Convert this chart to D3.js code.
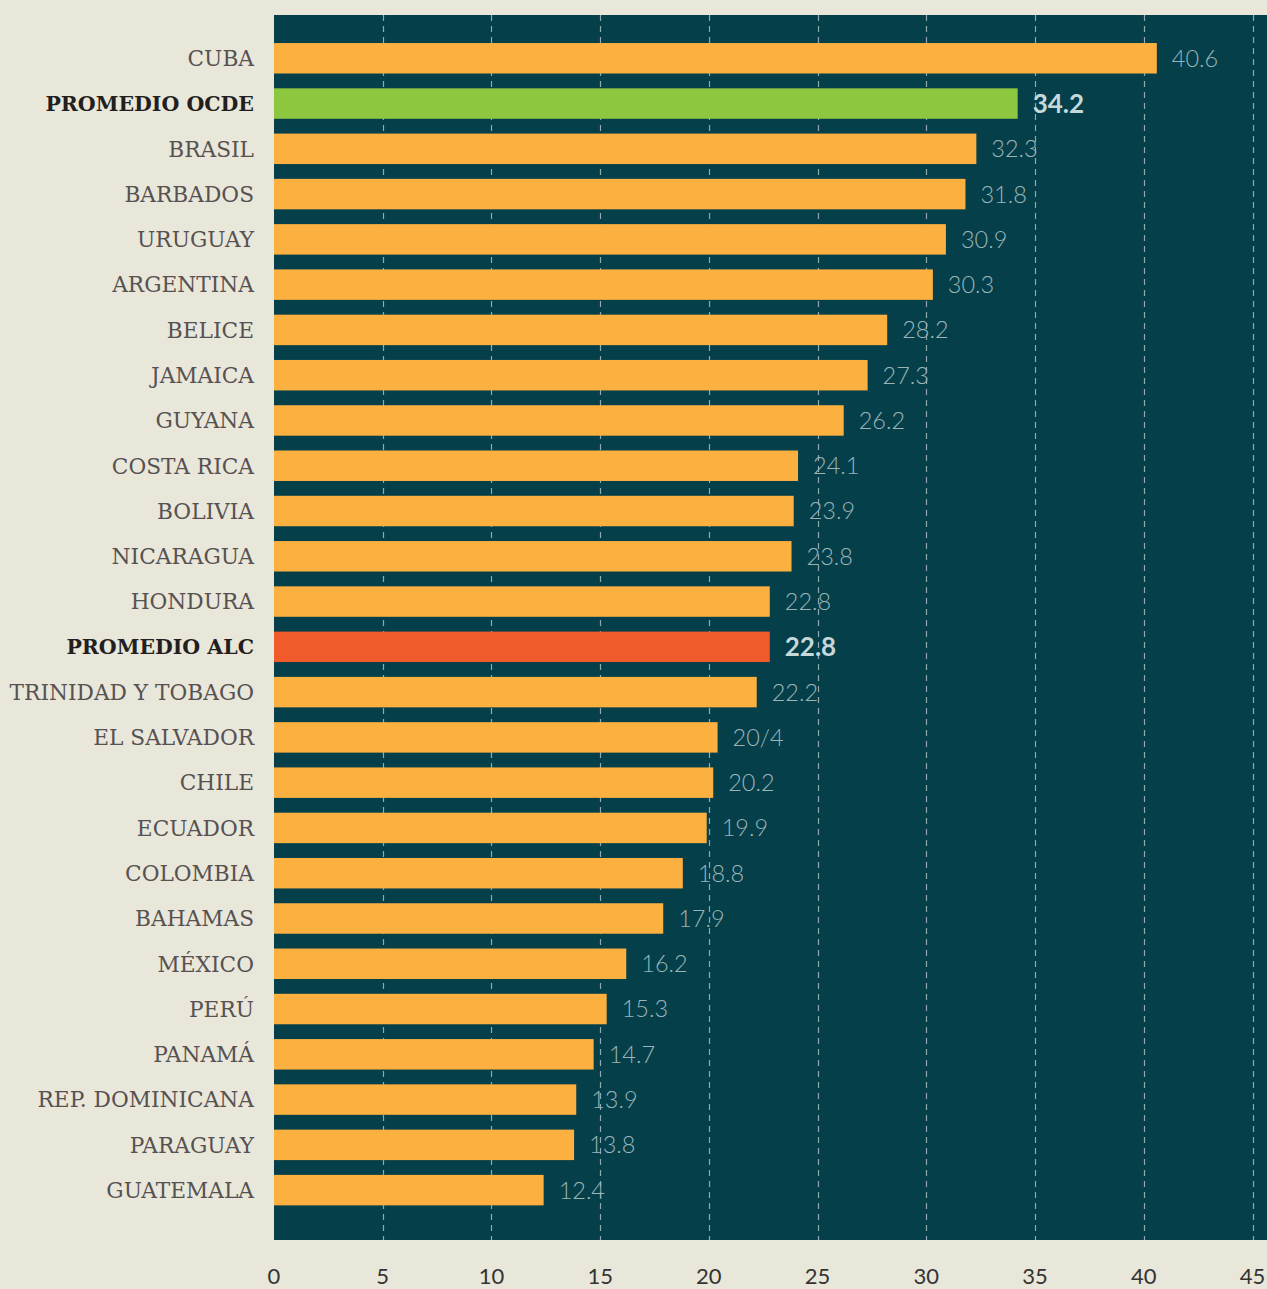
<!DOCTYPE html>
<html><head><meta charset="utf-8">
<script src="https://cdn.jsdelivr.net/npm/d3@7"></script>
<style>
html,body{margin:0;padding:0;background:#e9e7da;}
svg{display:block;}
</style></head>
<body>
<svg id="chart" width="1267" height="1289"></svg>
<script>
const categories = ["CUBA","PROMEDIO OCDE","BRASIL","BARBADOS","URUGUAY","ARGENTINA","BELICE","JAMAICA","GUYANA","COSTA RICA","BOLIVIA","NICARAGUA","HONDURA","PROMEDIO ALC","TRINIDAD Y TOBAGO","EL SALVADOR","CHILE","ECUADOR","COLOMBIA","BAHAMAS","MÉXICO","PERÚ","PANAMÁ","REP. DOMINICANA","PARAGUAY","GUATEMALA"];
const values = [40.6,34.2,32.3,31.8,30.9,30.3,28.2,27.3,26.2,24.1,23.9,23.8,22.8,22.8,22.2,20.4,20.2,19.9,18.8,17.9,16.2,15.3,14.7,13.9,13.8,12.4];
const valueLabels = ["40.6","34.2","32.3","31.8","30.9","30.3","28.2","27.3","26.2","24.1","23.9","23.8","22.8","22.8","22.2","20/4","20.2","19.9","18.8","17.9","16.2","15.3","14.7","13.9","13.8","12.4"];
const highlight = {"PROMEDIO OCDE":"ocde","PROMEDIO ALC":"alc"};
const xTicks = [0,5,10,15,20,25,30,35,40,45];

const colors = {normal:"#fbb040", ocde:"#8dc63f", alc:"#f15a2b"};
const svg = d3.select("#chart");
const plot = {left:274, right:1267, top:15, bottom:1240};

const x = d3.scaleLinear().domain([0,45]).range([274,1252.5]);
const y = d3.scaleBand().domain(categories).range([20.4, 1228]).paddingInner(0.327).paddingOuter(0.5);

svg.append("rect").attr("x",plot.left).attr("y",plot.top)
  .attr("width",plot.right-plot.left).attr("height",plot.bottom-plot.top).attr("fill","#053f4a");

// grid
svg.append("g").selectAll("line").data(xTicks.filter(d=>d>0)).join("line")
  .attr("x1",d=>Math.round(x(d))+0.5).attr("x2",d=>Math.round(x(d))+0.5)
  .attr("y1",plot.top).attr("y2",plot.bottom)
  .attr("stroke","#8fa9ae").attr("stroke-width",1.2).attr("stroke-dasharray","6,5");

// bars
svg.append("g").selectAll("rect").data(categories).join("rect")
  .attr("x",x(0)).attr("y",d=>y(d))
  .attr("width",(d,i)=>x(values[i])-x(0)).attr("height",y.bandwidth())
  .attr("fill",d=>colors[highlight[d]||"normal"]);

// category labels
svg.append("g").selectAll("text").data(categories).join("text")
  .attr("x",254).attr("y",d=>y(d)+y.bandwidth()/2)
  .attr("dy","0.36em").attr("text-anchor","end")
  .attr("font-family","'DejaVu Serif', serif")
  .attr("font-size",d=>highlight[d]?20.5:21.7)
  .attr("font-weight",d=>highlight[d]?"bold":"normal")
  .attr("fill",d=>highlight[d]?"#231f20":"#575252")
  .text(d=>d);

// value labels
svg.append("g").selectAll("text").data(categories).join("text")
  .attr("x",(d,i)=>x(values[i])+15).attr("y",d=>y(d)+y.bandwidth()/2)
  .attr("dy","0.36em")
  .attr("font-family","Lato, 'Open Sans', sans-serif")
  .attr("font-size",d=>highlight[d]?26:23.5)
  .attr("font-weight",d=>highlight[d]?"bold":"300")
  .attr("fill",d=>highlight[d]?"#c6d8da":"#9ab4b7")
  .text((d,i)=>valueLabels[i]);

// x axis labels
svg.append("g").selectAll("text").data(xTicks).join("text")
  .attr("x",d=>x(d)).attr("y",1276).attr("dy","0.36em").attr("text-anchor","middle")
  .attr("font-family","Lato, 'Open Sans', sans-serif").attr("font-size",22)
  .attr("fill","#333")
  .text(d=>d);
</script>
</body></html>
